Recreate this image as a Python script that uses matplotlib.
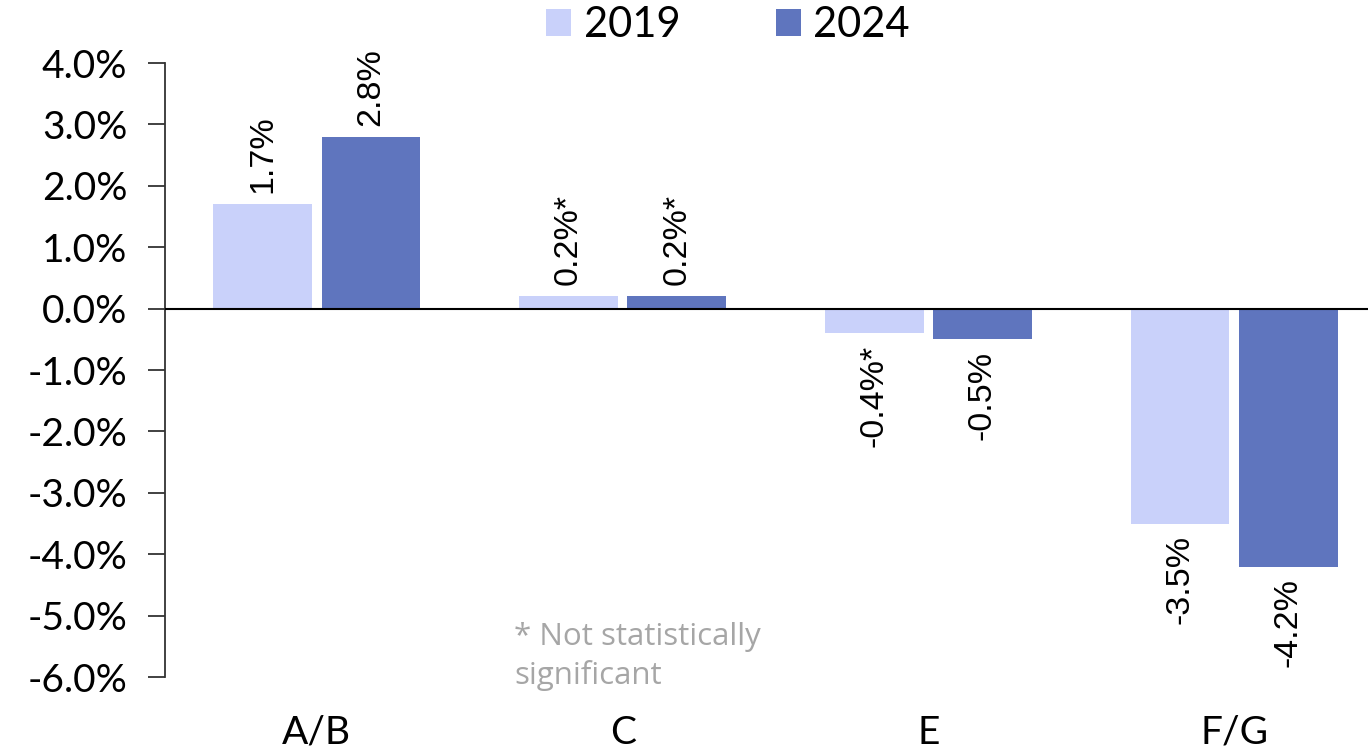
import matplotlib.pyplot as plt
import numpy as np

categories = ["A/B", "C", "E", "F/G"]
vals_2019 = [1.7, 0.2, -0.4, -3.5]
vals_2024 = [2.8, 0.2, -0.5, -4.2]
labels_2019 = ["1.7%", "0.2%*", "-0.4%*", "-3.5%"]
labels_2024 = ["2.8%", "0.2%*", "-0.5%", "-4.2%"]
yticks = [4, 3, 2, 1, 0, -1, -2, -3, -4, -5, -6]

c_light = "#c9d1fa"
c_dark = "#5f75be"

fig = plt.figure(figsize=(13.68, 7.5), dpi=100)
ax = fig.add_axes([0.1206, 0.0973, 0.8794, 0.8187])

x = np.arange(len(categories))
w = 0.323
off = 0.177
b1 = ax.bar(x - off, vals_2019, w, color=c_light, label="2019", zorder=2)
b2 = ax.bar(x + off, vals_2024, w, color=c_dark, label="2024", zorder=2)

def put_labels(bars, vals, texts):
    for bar, v, t in zip(bars, vals, texts):
        cx = bar.get_x() + bar.get_width() / 2
        if v >= 0:
            ax.annotate(t, (cx, v), xytext=(0, 8), textcoords="offset points",
                        rotation=90, ha="center", va="bottom",
                        fontsize=24.5, family="Liberation Sans")
        else:
            ax.annotate(t, (cx, v), xytext=(0, -8), textcoords="offset points",
                        rotation=90, ha="center", va="top",
                        fontsize=24.5, family="Liberation Sans")

put_labels(b1, vals_2019, labels_2019)
put_labels(b2, vals_2024, labels_2024)

ax.axhline(0, color="black", lw=1.5, zorder=3)
ax.set_xlim(-0.497, 3.438)
ax.set_ylim(-6, 4)
ax.set_yticks(yticks)
ax.set_yticklabels([f"{t:.1f}%" for t in yticks], fontsize=28, family="Lato")
ax.set_xticks(x)
ax.set_xticklabels(categories, fontsize=28, family="Lato")
ax.tick_params(axis="x", length=0, pad=27)
ax.tick_params(axis="y", length=12, width=1.3, color="#333333", pad=15)

for s in ["top", "right", "bottom"]:
    ax.spines[s].set_visible(False)
ax.spines["left"].set_color("#333333")
ax.spines["left"].set_linewidth(1.3)

fig.text(514 / 1368, 1 - 622 / 750, "* Not statistically\nsignificant",
         fontsize=22.5, color="#a6a6a6", family="Open Sans",
         ha="left", va="top", linespacing=1.35)

fig.legend(handles=[b1, b2], loc="center", bbox_to_anchor=(728 / 1368, 1 - 25 / 750),
           ncol=2, frameon=False, prop={"family": "Lato", "size": 30},
           handlelength=0.6, handleheight=0.6, handletextpad=0.3, columnspacing=2.3)

fig.savefig("out.png", dpi=100)
